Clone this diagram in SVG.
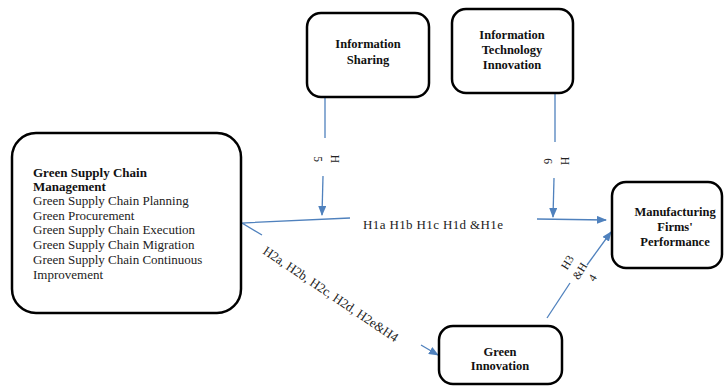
<svg xmlns="http://www.w3.org/2000/svg" width="727" height="387" viewBox="0 0 727 387">
<style>
.box{fill:#fff;stroke:#000;stroke-width:2.5}
.t{font-family:"Liberation Serif","Times New Roman",serif;font-size:12.5px;font-weight:bold;fill:#111;text-anchor:middle}
.g{font-family:"Liberation Serif","Times New Roman",serif;font-size:13px;fill:#222}
.gb{font-weight:bold;fill:#111}
.c{fill:none;stroke:#4f81bd;stroke-width:1.3}
.lb{font-family:"Liberation Serif","Times New Roman",serif;font-size:11.5px;fill:#222}
.lc{text-anchor:middle;dominant-baseline:central}
</style>
<defs>
<marker id="ah" markerWidth="10" markerHeight="8" refX="9" refY="4" orient="auto" markerUnits="userSpaceOnUse">
<path d="M0,0 L10,4 L0,8 z" fill="#4f81bd"/>
</marker>
</defs>
<rect width="727" height="387" fill="#fff"/>
<g id="connectors">
<line class="c" x1="325" y1="97" x2="325" y2="138"/>
<line class="c" x1="323" y1="176" x2="322" y2="215" marker-end="url(#ah)"/>
<line class="c" x1="555" y1="94" x2="555" y2="142"/>
<line class="c" x1="554" y1="178" x2="553" y2="217" marker-end="url(#ah)"/>
<polyline class="c" points="350,218 242,223 262,235"/>
<line class="c" x1="537" y1="219" x2="606" y2="220" marker-end="url(#ah)"/>
<line class="c" x1="421" y1="345" x2="438" y2="355" marker-end="url(#ah)"/>
<line class="c" x1="547" y1="318" x2="570" y2="283"/>
<line class="c" x1="587" y1="265" x2="611" y2="232" marker-end="url(#ah)"/>
<text class="lb lc" transform="translate(335,159) rotate(90)">H</text>
<text class="lb lc" transform="translate(318,159) rotate(90)">5</text>
<text class="lb lc" transform="translate(564.5,161) rotate(90)">H</text>
<text class="lb lc" transform="translate(547.5,161) rotate(90)">6</text>
<text class="lb lc" transform="translate(567.3,262.3) rotate(-58)">H3</text>
<text class="lb lc" transform="translate(579.7,271) rotate(-58)">&amp;H</text>
<text class="lb lc" transform="translate(592.3,277.7) rotate(-58)">4</text>
<text class="g" x="363" y="229" textLength="140">H1a  H1b  H1c  H1d &amp;H1e</text>
<text class="g" transform="translate(262,253) rotate(34)" textLength="160">H2a, H2b, H2c, H2d, H2e&amp;H4</text>
</g>
<g id="info-sharing">
<rect class="box" x="307" y="13" width="122" height="84" rx="14"/>
<text class="t" x="368" y="48">Information</text>
<text class="t" x="368" y="64">Sharing</text>
</g>
<g id="it-innovation">
<rect class="box" x="452" y="9" width="121" height="84" rx="14"/>
<text class="t" x="512" y="39">Information</text>
<text class="t" x="512" y="54">Technology</text>
<text class="t" x="512" y="69">Innovation</text>
</g>
<g id="gscm">
<rect class="box" x="12" y="133" width="229" height="180" rx="24"/>
<text class="g gb" x="33" y="177">Green Supply Chain</text>
<text class="g gb" x="33" y="191">Management</text>
<text class="g" x="33" y="205">Green Supply Chain Planning</text>
<text class="g" x="33" y="220">Green Procurement</text>
<text class="g" x="33" y="234">Green Supply Chain Execution</text>
<text class="g" x="33" y="249">Green Supply Chain Migration</text>
<text class="g" x="33" y="264">Green Supply Chain Continuous</text>
<text class="g" x="33" y="279">Improvement</text>
</g>
<g id="mfp">
<rect class="box" x="612" y="182" width="110" height="86" rx="14"/>
<text class="t" x="675" y="216">Manufacturing</text>
<text class="t" x="675" y="231">Firms'</text>
<text class="t" x="675" y="246">Performance</text>
</g>
<g id="green-innovation">
<rect class="box" x="439" y="326" width="123" height="58" rx="14"/>
<text class="t" x="500" y="356">Green</text>
<text class="t" x="500" y="370">Innovation</text>
</g>
</svg>
